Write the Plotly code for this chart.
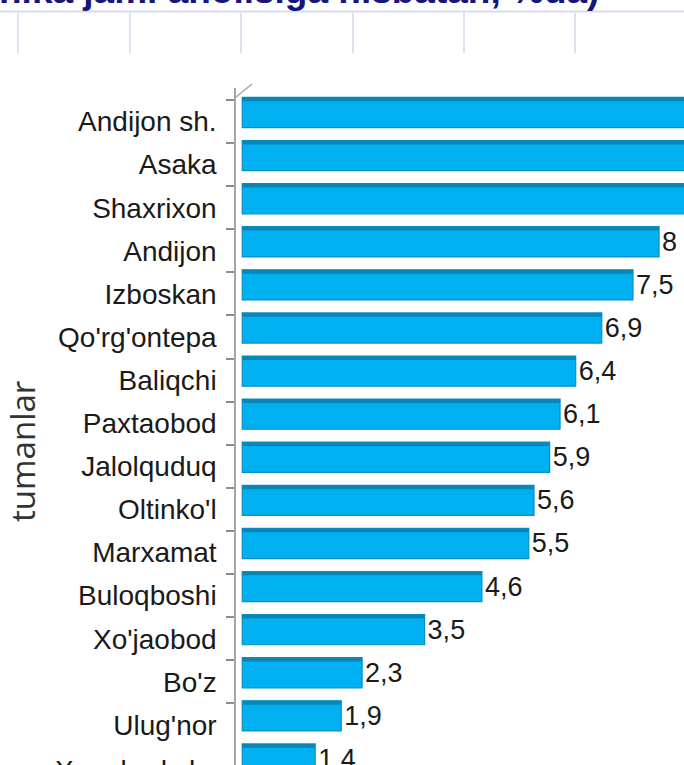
import plotly.graph_objects as go

categories = ["Andijon sh.", "Asaka", "Shaxrixon", "Andijon", "Izboskan", "Qo'rg'ontepa",
              "Baliqchi", "Paxtaobod", "Jalolquduq", "Oltinko'l", "Marxamat", "Buloqboshi",
              "Xo'jaobod", "Bo'z", "Ulug'nor", "Xonobod sh."]
values = [12.1, 10.5, 9.3, 8.0, 7.5, 6.9, 6.4, 6.1, 5.9, 5.6, 5.5, 4.6, 3.5, 2.3, 1.9, 1.4]
title_text = "nika jami aholisiga nisbatan, %da)"
axis_title = "tumanlar"

W, H = 684, 765
ML, MT = 236, 88
PW, PH = W - ML, H - MT

def px_x(p):
    return (p - ML) / PW

def px_y(p):
    return (H - p) / PH

labels = [("%g" % v).replace(".", ",") for v in values]

fig = go.Figure()
fig.add_trace(go.Bar(
    y=categories, x=values, orientation="h",
    marker=dict(color="#00B0F0", line=dict(color="#0A8FC4", width=1.2)),
    width=0.70, offset=-0.56,
    text=labels, textposition="outside", cliponaxis=True,
    textfont=dict(family="Liberation Sans, Arial", size=27, color="#1a1a1a"),
    hoverinfo="skip",
))
fig.add_trace(go.Bar(
    y=categories, x=values, orientation="h",
    marker=dict(color="#0A86B6", line=dict(width=0)),
    width=0.09, offset=-0.56,
    hoverinfo="skip",
))

shapes = []
shapes.append(dict(type="line", xref="paper", yref="paper", x0=px_x(0), x1=px_x(W),
                   y0=px_y(11.5), y1=px_y(11.5), line=dict(color="#D6DCE8", width=2)))
for gx in [18, 130, 241, 353, 464, 575]:
    shapes.append(dict(type="line", xref="paper", yref="paper", x0=px_x(gx), x1=px_x(gx),
                       y0=px_y(13), y1=px_y(53), line=dict(color="#DDE3EE", width=2)))
shapes.append(dict(type="line", xref="paper", yref="paper", x0=px_x(236), x1=px_x(252),
                   y0=px_y(97), y1=px_y(84), line=dict(color="#A6A6A6", width=1.5)))

annotations = [
    dict(text=title_text, xref="paper", yref="paper", x=px_x(-3), y=px_y(-10),
         xanchor="left", yanchor="middle", showarrow=False,
         font=dict(family="Liberation Sans, Arial", size=37, color="#17177A", weight="bold")),
    dict(text=axis_title, xref="paper", yref="paper", x=px_x(22), y=px_y(452),
         xanchor="center", yanchor="middle", textangle=-90, showarrow=False,
         font=dict(family="Open Sans, Arial", size=33, color="#333333")),
    dict(text=categories[-1], xref="paper", yref="paper", x=px_x(214), y=px_y(770),
         xanchor="right", yanchor="middle", showarrow=False,
         font=dict(family="Liberation Sans, Arial", size=28, color="#1a1a1a")),
]

fig.update_layout(
    width=W, height=H,
    margin=dict(l=ML, r=0, t=MT, b=0, pad=0),
    paper_bgcolor="white", plot_bgcolor="white",
    barmode="overlay", showlegend=False,
    shapes=shapes, annotations=annotations,
    xaxis=dict(range=[-0.12, -0.12 + PW / 52.1], visible=False, showgrid=False, zeroline=False),
    yaxis=dict(type="category", categoryorder="array", categoryarray=categories,
               range=[14.93, -0.5 - (100 - MT) / 43.1],
               showline=True, linecolor="#A6A6A6", linewidth=1.5,
               ticks="outside", ticklen=8, tickcolor="#8C8C8C", tickwidth=1.5,
               tickson="boundaries", ticklabelstandoff=12, showgrid=False,
               tickfont=dict(family="Liberation Sans, Arial", size=28, color="#1a1a1a")),
)

fig.write_html("out.html", config={"displayModeBar": False},
               post_script="document.body.style.margin='0';document.body.style.overflow='hidden';")
